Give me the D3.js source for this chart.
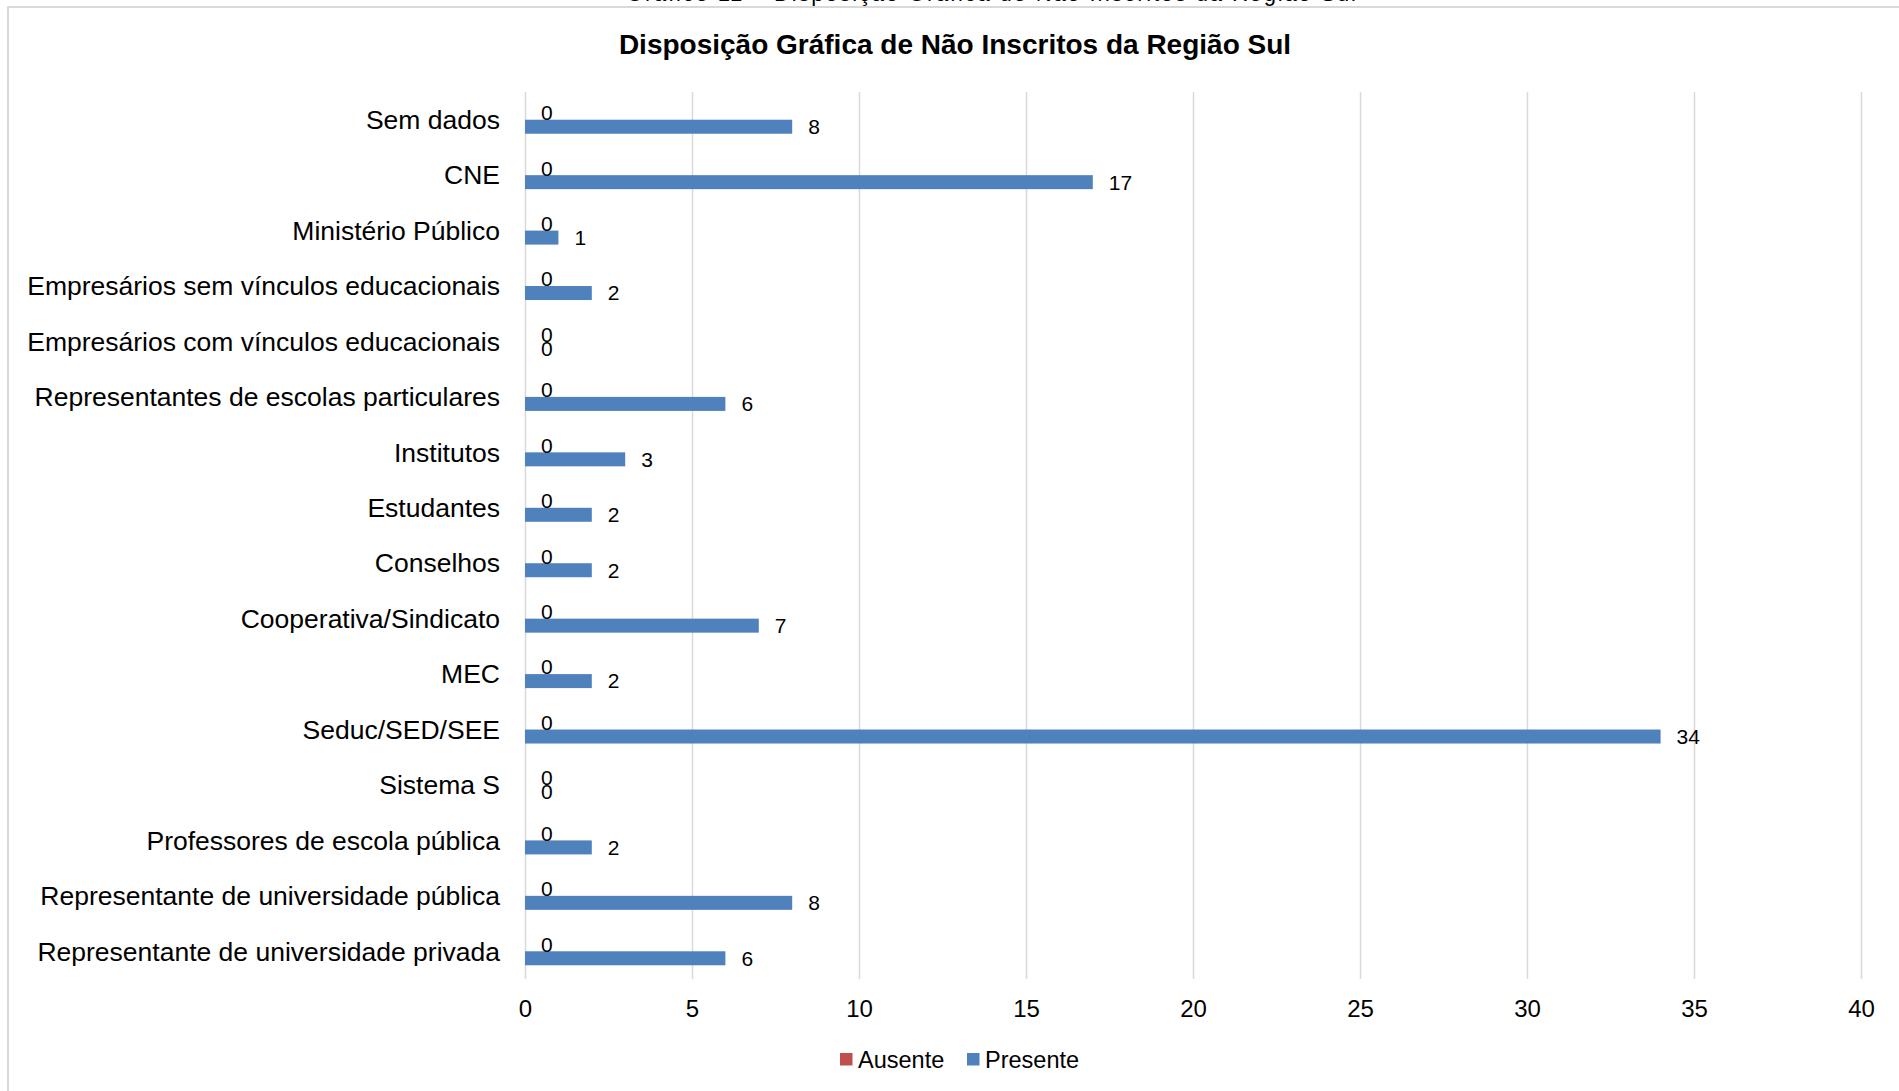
<!DOCTYPE html>
<html>
<head>
<meta charset="utf-8">
<script src="https://cdn.jsdelivr.net/npm/d3@7"></script>
<style type="text/css">
body { margin: 0; background: #fff; }
svg { display: block; font-family: Arial, "Liberation Sans", sans-serif; }
.grid line { stroke: #d9d9d9; stroke-width: 1.5; }
.grid .domain { display: none; }
.grid text { font-size: 24px; fill: #000; }
.cat { font-size: 26.5px; fill: #000; }
.val { font-size: 21px; fill: #000; }
.legend text { font-size: 23.5px; fill: #000; }
</style>
</head>
<body>
<div id="chart"></div>
<script>

// data, top to bottom
var categories = [
	"Sem dados",
	"CNE",
	"Ministério Público",
	"Empresários sem vínculos educacionais",
	"Empresários com vínculos educacionais",
	"Representantes de escolas particulares",
	"Institutos",
	"Estudantes",
	"Conselhos",
	"Cooperativa/Sindicato",
	"MEC",
	"Seduc/SED/SEE",
	"Sistema S",
	"Professores de escola pública",
	"Representante de universidade pública",
	"Representante de universidade privada"
];
var series = ["Ausente", "Presente"];
var ausente  = [0, 0, 0, 0, 0, 0, 0, 0, 0, 0, 0, 0, 0, 0, 0, 0];
var presente = [8, 17, 1, 2, 0, 6, 3, 2, 2, 7, 2, 34, 0, 2, 8, 6];
var xTicks = [0, 5, 10, 15, 20, 25, 30, 35, 40];
var colors = ["#C0504D", "#4F81BD"];

var W = 1899, H = 1091;
var plotLeft = 525, plotRight = 1861, plotTop = 92, plotBottom = 979;

var svg = d3.select("#chart").append("svg")
	.attr("width", W)
	.attr("height", H);

// chart frame (right and bottom edges run past the picture)
svg.append("rect")
	.attr("x", 8).attr("y", 7)
	.attr("width", W + 20).attr("height", H + 20)
	.attr("fill", "#fff")
	.attr("stroke", "#d9d9d9")
	.attr("stroke-width", 2);

// caption of the document, cut off at the top
svg.append("text")
	.attr("x", 991).attr("y", 1)
	.attr("text-anchor", "middle")
	.attr("textLength", 730)
	.style("font-size", "22px")
	.text("Gráfico 11 – Disposição Gráfica de Não Inscritos da Região Sul");

svg.append("text")
	.attr("x", 955).attr("y", 44)
	.attr("dy", "0.35em")
	.attr("text-anchor", "middle")
	.style("font-size", "28px")
	.style("font-weight", "bold")
	.text("Disposição Gráfica de Não Inscritos da Região Sul");

var x = d3.scaleLinear().domain([0, 40]).range([plotLeft, plotRight]);
var y = d3.scaleBand().domain(categories).range([plotTop, plotBottom]).padding(0);
var barH = 14;
var ySub = d3.scaleBand().domain(series).range([-barH, barH]);

// gridlines + tick labels
svg.append("g")
	.attr("class", "grid")
	.attr("transform", "translate(0," + plotBottom + ")")
	.call(d3.axisBottom(x).tickValues(xTicks).tickSize(-(plotBottom - plotTop)).tickPadding(21))
	.call(function(g) { g.selectAll("text").attr("y", 21).attr("dy", "0.71em"); });

// category labels
svg.append("g").selectAll("text")
	.data(categories)
	.enter().append("text")
	.attr("class", "cat")
	.attr("x", plotLeft - 25)
	.attr("y", function(d) { return y(d) + y.bandwidth() / 2; })
	.attr("dy", "0.35em")
	.attr("text-anchor", "end")
	.text(function(d) { return d; });

var rows = categories.map(function(c, i) {
	return { cat: c, values: [ausente[i], presente[i]] };
});

var groups = svg.append("g").selectAll("g")
	.data(rows)
	.enter().append("g")
	.attr("transform", function(d) { return "translate(0," + (y(d.cat) + y.bandwidth() / 2) + ")"; });

groups.selectAll("rect")
	.data(function(d) { return d.values.map(function(v, j) { return { s: series[j], v: v, c: colors[j] }; }); })
	.enter().append("rect")
	.attr("x", x(0))
	.attr("y", function(d) { return ySub(d.s); })
	.attr("width", function(d) { return x(d.v) - x(0); })
	.attr("height", ySub.bandwidth())
	.attr("fill", function(d) { return d.c; });

groups.selectAll("text")
	.data(function(d) { return d.values.map(function(v, j) { return { s: series[j], v: v }; }); })
	.enter().append("text")
	.attr("class", "val")
	.attr("x", function(d) { return x(d.v) + 16; })
	.attr("y", function(d) { return ySub(d.s) + ySub.bandwidth() / 2; })
	.attr("dy", "0.35em")
	.text(function(d) { return d.v; });

// legend
var legend = svg.append("g").attr("class", "legend");
var legX = [840, 967];
series.forEach(function(s, i) {
	legend.append("rect")
		.attr("x", legX[i]).attr("y", 1053)
		.attr("width", 12.5).attr("height", 12.5)
		.attr("fill", colors[i]);
	legend.append("text")
		.attr("x", legX[i] + 18).attr("y", 1059.5)
		.attr("dy", "0.35em")
		.text(s);
});

</script>
</body>
</html>
